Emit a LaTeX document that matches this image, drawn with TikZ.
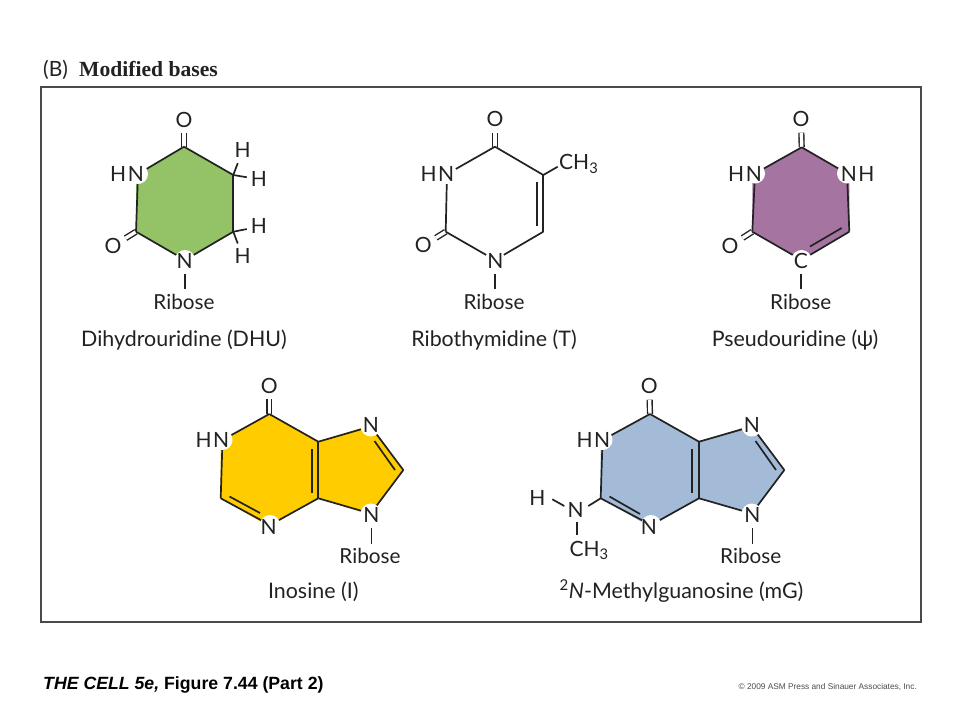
\documentclass[tikz,border=0pt]{standalone}
\usepackage{fontspec}
\setmainfont{Lato}
\newfontfamily\headfont{Liberation Serif}
\newfontfamily\footfont{Liberation Sans}
\definecolor{inkc}{HTML}{222222}
\definecolor{framec}{HTML}{4A4A4A}
\definecolor{greenf}{HTML}{94C266}
\definecolor{purplef}{HTML}{A674A1}
\definecolor{yellowf}{HTML}{FFCC00}
\definecolor{bluef}{HTML}{A3BBD7}
\newcommand{\HNtxt}{H\kern1.5pt N}
\newcommand{\NHtxt}{N\kern1.5pt H}
\tikzset{
  bond/.style={draw=inkc,line width=1.7pt},
  dblbond/.style={draw=inkc,line width=1.4pt,double=white,double distance=3.4pt},
  notch/.style={circle,fill=white,inner sep=0pt,minimum size=20pt},
  atom/.style={font=\fontsize{21}{22}\selectfont,text=inkc,inner xsep=4pt,inner ysep=6pt,text height=14pt,text depth=0pt},
  sugar/.style={atom,font=\fontsize{20.7}{22}\selectfont},
  captxt/.style={font=\fontsize{21.4}{23}\selectfont,text=inkc,inner sep=0pt,anchor=base},
}
\begin{document}
\begin{tikzpicture}[x=1pt,y=-1pt]
\useasboundingbox[fill=white] (0,0) rectangle (960,720);
\node[anchor=base west,inner sep=0pt,font=\fontsize{21}{22}\selectfont,text=inkc] (title) at (43,76) {(B)};
\node[anchor=base west,inner sep=0pt,font=\headfont\bfseries\fontsize{21.6}{22}\selectfont,text=inkc] (titleb) at (79,76) {Modified bases};
\draw[framec,line width=2pt] (41,87) rectangle (921,622);
\node[anchor=base west,inner sep=0pt,font=\footfont\bfseries\fontsize{17.7}{18}\selectfont,text=black] (foot) at (43,689) {\textit{THE CELL 5e,} Figure 7.44 (Part 2)};
\node[anchor=base east,inner sep=0pt,font=\footfont\fontsize{8.3}{10}\selectfont,text=black!70] (copy) at (917,689) {© 2009 ASM Press and Sinauer Associates, Inc.};

% ---------- Dihydrouridine
\coordinate (d1) at (184,146.7);\coordinate (d2) at (233.3,175);\coordinate (d3) at (233.3,231.7);
\coordinate (d4) at (184,260);\coordinate (d5) at (136,231.7);\coordinate (d6) at (136,175);
\fill[greenf] (d1)--(d2)--(d3)--(d4)--(d5)--(d6)--cycle;
\node[notch] (dnHN) at (138,174) {};
\node[notch] (dnN) at (185,260) {};
\node[atom] (dO1) at (184,120) {O};
\node[atom] (dO2) at (113,246) {O};
\node[atom] (dHN) at (127,174) {\HNtxt};
\node[atom] (dN) at (184.7,261) {N};
\node[atom] (dH1) at (242.7,150) {H};
\node[atom] (dH2) at (259,179.3) {H};
\node[atom] (dH3) at (259,226.7) {H};
\node[atom] (dH4) at (242.7,256.7) {H};
\node[sugar] (dR) at (184,302) {Ribose};
\node[captxt] (dC) at (184,346.5) {Dihydrouridine (DHU)};
\draw[dblbond] (d1)--(dO1);\draw[dblbond] (d5)--(dO2);
\draw[bond] (dnHN)--(d1);\draw[bond] (d1)--(d2);\draw[bond] (d2)--(d3);\draw[bond] (d3)--(dnN);\draw[bond] (dnN)--(d5);\draw[bond] (d5)--(dnHN);
\draw[bond] (d2)--(dH1);\draw[bond] (d2)--(dH2);\draw[bond] (d3)--(dH3);\draw[bond] (d3)--(dH4);
\draw[bond] (dN.south)--(dN.south |- dR.north);

% ---------- Ribothymidine
\coordinate (t1) at (495,146.7);\coordinate (t2) at (543.3,175);\coordinate (t3) at (543.3,231.7);
\coordinate (t4) at (495,260);\coordinate (t5) at (445.7,231.7);\coordinate (t6) at (445.7,175);
\coordinate (ti2) at (536.7,182.3);\coordinate (ti3) at (536.7,225.7);
\coordinate (tCHe) at (557.7,166.7);
\node[notch] (tnHN) at (447,174) {};
\node[notch] (tnN) at (495,260) {};
\node[atom] (tO1) at (495,119.5) {O};
\node[atom] (tO2) at (423.3,245.7) {O};
\node[atom] (tHN) at (437.3,174) {\HNtxt};
\node[atom] (tN) at (495.3,261) {N};
\node[atom,anchor=west,inner sep=0pt] (tCH) at (559,162.5) {CH\textsubscript{3}};
\node[sugar] (tR) at (494,302) {Ribose};
\node[captxt] (tC) at (494,346.5) {Ribothymidine (T)};
\draw[dblbond] (t1)--(tO1);\draw[dblbond] (t5)--(tO2);
\draw[bond] (tnHN)--(t1);\draw[bond] (t1)--(t2);\draw[bond] (t2)--(t3);\draw[bond] (t3)--(tnN);\draw[bond] (tnN)--(t5);\draw[bond] (t5)--(tnHN);
\draw[bond] (ti2)--(ti3);\draw[bond] (t2)--(tCHe);
\draw[bond] (tN.south)--(tN.south |- tR.north);

% ---------- Pseudouridine
\coordinate (p1) at (801.7,147.3);\coordinate (p2) at (849.3,175);\coordinate (p3) at (849.3,231.7);
\coordinate (p4) at (801.7,260);\coordinate (p5) at (752.3,231.7);\coordinate (p6) at (752.3,175);
\coordinate (pi3) at (841.7,228);\coordinate (pi4) at (810,246.5);
\fill[purplef] (p1)--(p2)--(p3)--(p4)--(p5)--(p6)--cycle;
\node[notch] (pnHN) at (755,173.5) {};
\node[notch] (pnNH) at (847,173.5) {};
\node[notch] (pnC) at (801.5,260) {};
\node[atom] (pO1) at (801,119.5) {O};
\node[atom] (pO2) at (730,246) {O};
\node[atom] (pHN) at (745,174) {\HNtxt};
\node[atom] (pNH) at (857.7,174) {\NHtxt};
\node[atom] (pCa) at (801,261) {C};
\node[sugar] (pR) at (800.7,302) {Ribose};
\node[captxt] (pC) at (795,346.5) {Pseudouridine (ψ)};
\draw[dblbond] (p1)--(pO1);\draw[dblbond] (p5)--(pO2);
\draw[bond] (pnHN)--(p1);\draw[bond] (p1)--(pnNH);\draw[bond] (pnNH)--(p3);\draw[bond] (p3)--(pnC);\draw[bond] (pnC)--(p5);\draw[bond] (p5)--(pnHN);
\draw[bond] (pi3)--(pi4);
\draw[bond] (pCa.south)--(pCa.south |- pR.north);

% ---------- Inosine
\coordinate (i1) at (269.3,414);\coordinate (i2) at (318.3,441.7);\coordinate (i3) at (318.3,498.3);
\coordinate (i4) at (269.3,526.7);\coordinate (i5) at (220.7,498.3);\coordinate (i6) at (220.7,441.7);
\coordinate (i7) at (370.7,425);\coordinate (i8) at (403.3,470);\coordinate (i9) at (370.7,515);
\coordinate (ii2) at (312.3,449.3);\coordinate (ii3) at (312.3,492.7);
\coordinate (ii7) at (374.5,441);\coordinate (ii8) at (395,470);
\coordinate (ii4) at (260,513);\coordinate (ii5) at (229.5,496.5);
\fill[yellowf] (i1)--(i2)--(i7)--(i8)--(i9)--(i3)--(i4)--(i5)--(i6)--cycle;
\node[notch] (inHN) at (222.5,440) {};
\node[notch] (inN7) at (370.7,426.5) {};
\node[notch] (inN9) at (370.7,513.5) {};
\node[notch] (inN3) at (270,525) {};
\node[atom] (iO) at (269.3,386) {O};
\node[atom] (iHN) at (212.3,440.5) {\HNtxt};
\node[atom] (iN7) at (371,425.5) {N};
\node[atom] (iN9) at (371.5,515) {N};
\node[atom] (iN3) at (268.7,527) {N};
\node[sugar] (iR) at (370,556.7) {Ribose};
\node[captxt] (iC) at (313.3,598.3) {Inosine (I)};
\draw[dblbond] (i1)--(iO);
\draw[bond] (inHN)--(i1);\draw[bond] (i1)--(i2);\draw[bond] (i2)--(i3);\draw[bond] (i3)--(inN3);\draw[bond] (inN3)--(i5);\draw[bond] (i5)--(inHN);
\draw[bond] (i2)--(inN7);\draw[bond] (inN7)--(i8);\draw[bond] (i8)--(inN9);\draw[bond] (inN9)--(i3);
\draw[bond] (ii2)--(ii3);\draw[bond] (ii7)--(ii8);\draw[bond] (ii4)--(ii5);
\draw[bond] (iN9.south)--(iN9.south |- iR.north);

% ---------- N-Methylguanosine
\coordinate (g1) at (650,414);\coordinate (g2) at (699,441.7);\coordinate (g3) at (699,498.3);
\coordinate (g4) at (650,526.7);\coordinate (g5) at (600.7,498.3);\coordinate (g6) at (600.7,441.7);
\coordinate (g7) at (751.7,425);\coordinate (g8) at (784.3,470);\coordinate (g9) at (751.7,513);
\coordinate (gi2) at (692.3,449.3);\coordinate (gi3) at (692.3,492.7);
\coordinate (gi7) at (755.5,441);\coordinate (gi8) at (776,470);
\coordinate (gi4) at (640,514);\coordinate (gi5) at (609.5,496.5);
\coordinate (gHe) at (552.3,499.3);\coordinate (gNw) at (564.3,506);\coordinate (gNe) at (588.3,506);
\coordinate (gNs) at (576.7,521.7);\coordinate (gCHt) at (576.7,535);
\fill[bluef] (g1)--(g2)--(g7)--(g8)--(g9)--(g3)--(g4)--(g5)--(g6)--cycle;
\node[notch] (gnHN) at (602.5,440) {};
\node[notch] (gnN7) at (751.7,426.5) {};
\node[notch] (gnN9) at (751.7,513.5) {};
\node[notch] (gnN3) at (651,525) {};
\node[atom] (gO) at (649.3,386.5) {O};
\node[atom] (gHN) at (593.3,440.5) {\HNtxt};
\node[atom] (gN7) at (752,425.5) {N};
\node[atom] (gN9) at (752.5,515) {N};
\node[atom] (gN3) at (649,527) {N};
\node[atom] (gH) at (537.3,498.3) {H};
\node[atom] (gNa) at (575.7,510) {N};
\node[atom,anchor=west,inner sep=0pt] (gCH) at (569.3,549.3) {CH\textsubscript{3}};
\node[sugar] (gR) at (750.7,556.7) {Ribose};
\node[captxt] (gC) at (681.5,598.3) {\textsuperscript{2}\textit{N}-Methylguanosine (mG)};
\draw[dblbond] (g1)--(gO);
\draw[bond] (gnHN)--(g1);\draw[bond] (g1)--(g2);\draw[bond] (g2)--(g3);\draw[bond] (g3)--(gnN3);\draw[bond] (gnN3)--(g5);\draw[bond] (g5)--(gnHN);
\draw[bond] (g2)--(gnN7);\draw[bond] (gnN7)--(g8);\draw[bond] (g8)--(gnN9);\draw[bond] (gnN9)--(g3);
\draw[bond] (gi2)--(gi3);\draw[bond] (gi7)--(gi8);\draw[bond] (gi4)--(gi5);
\draw[bond] (gHe)--(gNw);\draw[bond] (gNe)--(g5);\draw[bond] (gNs)--(gCHt);
\draw[bond] (gN9.south)--(gN9.south |- gR.north);
\end{tikzpicture}
\end{document}
